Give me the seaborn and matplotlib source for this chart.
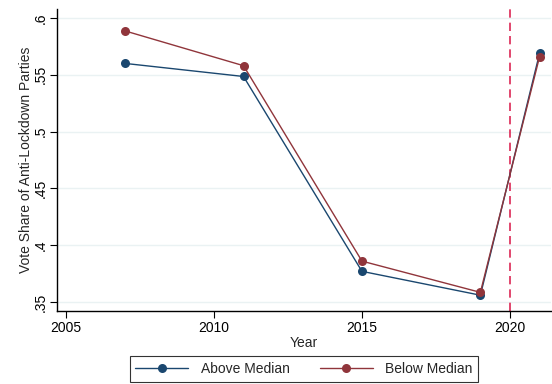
import matplotlib
matplotlib.use("Agg")
import matplotlib.pyplot as plt
import seaborn as sns
import pandas as pd

years = [2007, 2011, 2015, 2019, 2021]
above_median = [0.560, 0.5485, 0.377, 0.356, 0.569]
below_median = [0.5886, 0.558, 0.386, 0.3585, 0.566]
groups = ["Above Median", "Below Median"]
x_ticks = [2005, 2010, 2015, 2020]
y_ticks = [0.35, 0.40, 0.45, 0.50, 0.55, 0.60]
y_tick_labels = [".35", ".4", ".45", ".5", ".55", ".6"]
policy_year = 2020

df = pd.DataFrame({
    "Year": years * 2,
    "Share": above_median + below_median,
    "Group": [groups[0]] * len(years) + [groups[1]] * len(years),
})

sns.set_style("white")
plt.rcParams["font.family"] = ["Liberation Sans", "DejaVu Sans"]

fig = plt.figure(figsize=(5.52, 3.84), dpi=100)
ax = fig.add_axes([57 / 552, 73 / 384, 494 / 552, 302 / 384])

palette = {groups[0]: "#1a476f", groups[1]: "#90353b"}
sns.lineplot(data=df, x="Year", y="Share", hue="Group", palette=palette,
             marker="o", markersize=6.5, markeredgewidth=0, linewidth=1.0,
             ax=ax, legend=True)

for y in y_ticks:
    ax.axhline(y, color="#eaf2f3", linewidth=1.0, zorder=0)
ax.axvline(policy_year, color="#dc2855", linestyle=(0, (5, 3)), linewidth=1.2, zorder=1)

ax.set_xlim(2004.70, 2021.385)
ax.set_ylim(0.3421, 0.6079)
ax.set_xticks(x_ticks)
ax.set_yticks(y_ticks)
ax.set_yticklabels(y_tick_labels, rotation=90, va="center")
ax.tick_params(axis="both", direction="out", length=5, width=0.8, labelsize=10,
               colors="black", left=True, bottom=True, pad=2)
ax.set_xlabel("Year", fontsize=10, labelpad=1)
ax.set_ylabel("Vote Share of Anti-Lockdown Parties", fontsize=10, labelpad=0)

for s in ["top", "right"]:
    ax.spines[s].set_visible(False)
for s in ["left", "bottom"]:
    ax.spines[s].set_color("black")
    ax.spines[s].set_linewidth(1.0)

handles, labels = ax.get_legend_handles_labels()
leg = ax.legend(handles, labels, loc="center", bbox_to_anchor=(0.5, -0.192),
                ncol=2, fontsize=10, frameon=True, fancybox=False,
                edgecolor="black", handlelength=3.8, columnspacing=2.2,
                borderpad=0.4, handletextpad=0.9)
leg.get_frame().set_linewidth(0.8)

fig.savefig("out.png", dpi=100, facecolor="white")
